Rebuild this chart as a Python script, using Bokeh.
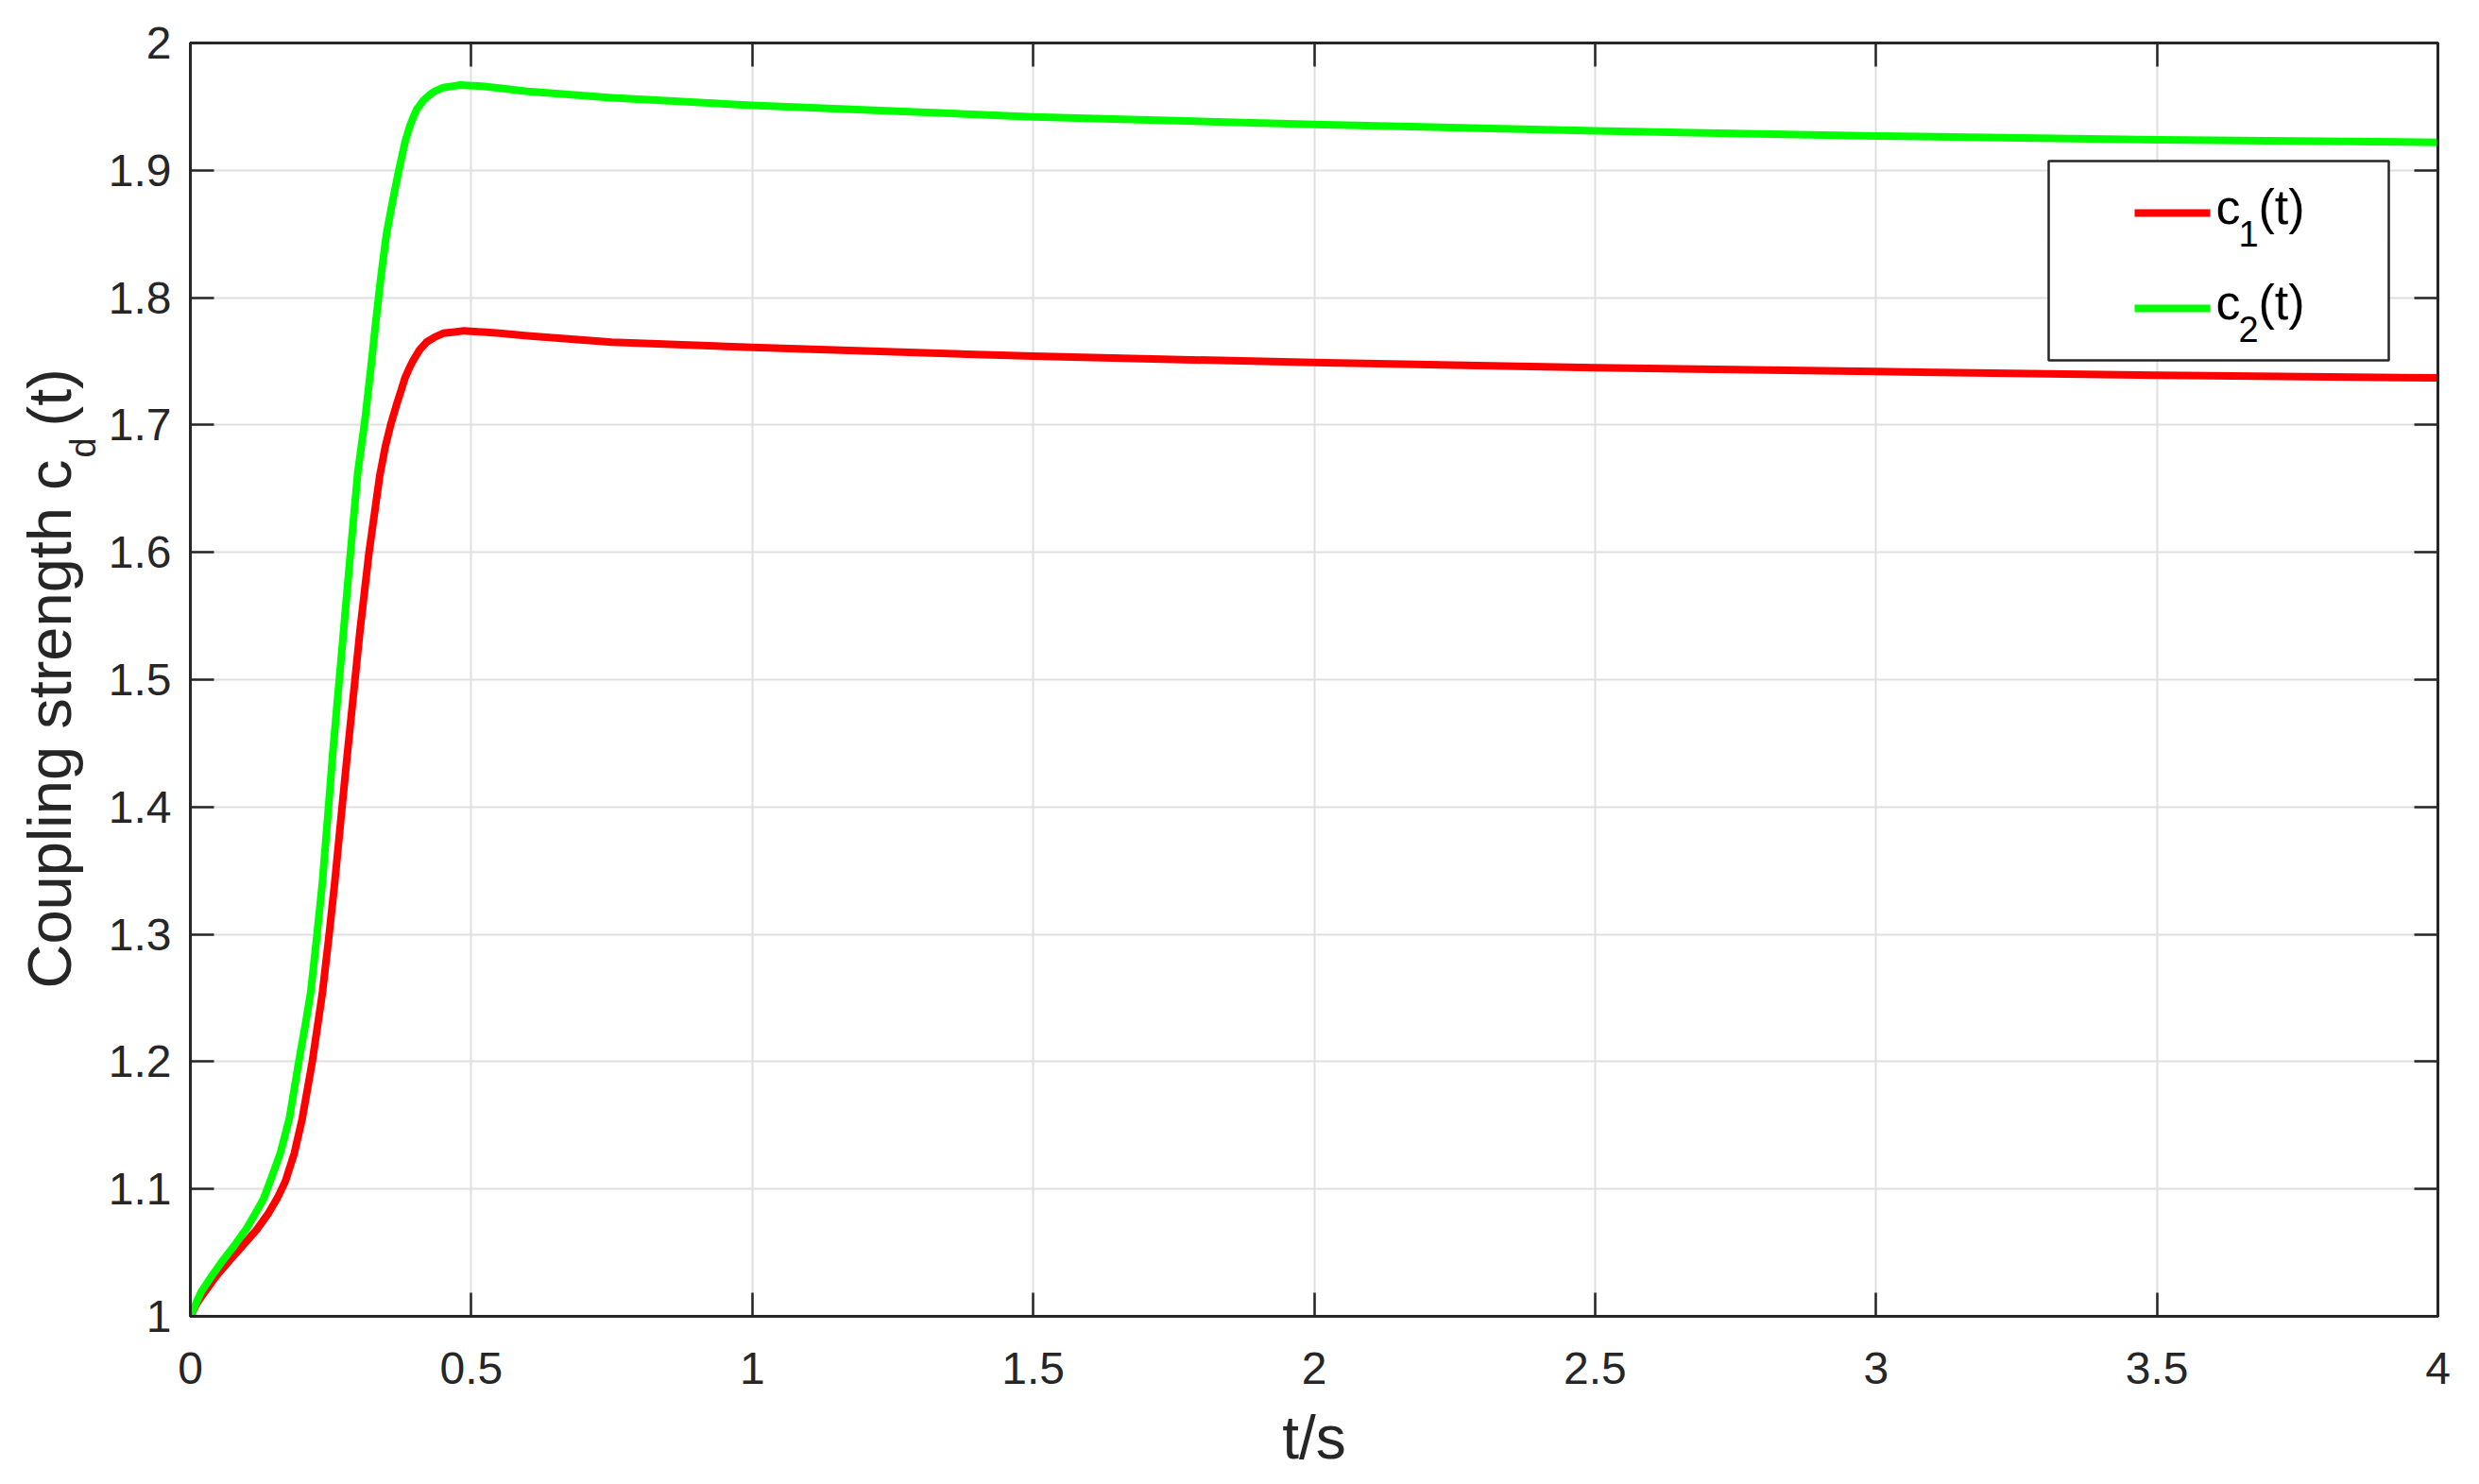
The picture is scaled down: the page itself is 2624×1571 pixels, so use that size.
import numpy as np
from bokeh.plotting import figure
from bokeh.layouts import row
from bokeh.models import (LinearAxis, Range1d, FixedTicker, Label, BoxAnnotation,
                          CustomJSTickFormatter)
from bokeh.embed import file_html
from bokeh.resources import INLINE

# ---- data ----
t1 = [0.000, 0.010, 0.022, 0.045, 0.070, 0.094, 0.118, 0.139, 0.155, 0.169, 0.185,
      0.199, 0.217, 0.235, 0.247, 0.257, 0.270, 0.279, 0.293, 0.302, 0.318, 0.337,
      0.347, 0.357, 0.367, 0.375, 0.382, 0.390, 0.397, 0.408, 0.420, 0.435, 0.450,
      0.470, 0.487, 0.550, 0.600, 0.750, 1.000, 1.500, 2.000, 2.500, 3.000, 3.500,
      4.000]
c1 = [1.000, 1.009, 1.017, 1.031, 1.044, 1.056, 1.068, 1.081, 1.093, 1.106, 1.128,
      1.155, 1.200, 1.254, 1.300, 1.341, 1.400, 1.440, 1.500, 1.539, 1.600, 1.660,
      1.683, 1.701, 1.716, 1.727, 1.737, 1.745, 1.751, 1.759, 1.765, 1.769, 1.772,
      1.773, 1.774, 1.772, 1.770, 1.765, 1.761, 1.754, 1.749, 1.745, 1.742, 1.739,
      1.737]

t2 = [0.000, 0.008, 0.019, 0.037, 0.058, 0.079, 0.100, 0.116, 0.130, 0.142, 0.160,
      0.176, 0.193, 0.205, 0.214, 0.225, 0.235, 0.245, 0.253, 0.265, 0.274, 0.285,
      0.298, 0.311, 0.321, 0.330, 0.339, 0.349, 0.360, 0.371, 0.382, 0.390, 0.397,
      0.403, 0.410, 0.415, 0.420, 0.428, 0.435, 0.450, 0.465, 0.480, 0.520, 0.600,
      0.750, 1.000, 1.500, 2.000, 2.500, 3.000, 3.500, 4.000]
c2 = [1.000, 1.008, 1.019, 1.031, 1.044, 1.056, 1.069, 1.081, 1.092, 1.106, 1.128,
      1.155, 1.200, 1.230, 1.254, 1.298, 1.341, 1.395, 1.440, 1.500, 1.545, 1.600,
      1.663, 1.705, 1.744, 1.781, 1.816, 1.850, 1.876, 1.900, 1.922, 1.934, 1.942,
      1.948, 1.952, 1.955, 1.957, 1.960, 1.962, 1.965, 1.966, 1.967, 1.966, 1.962,
      1.957, 1.951, 1.942, 1.936, 1.931, 1.927, 1.924, 1.922]

x_ticks = [0.0, 0.5, 1.0, 1.5, 2.0, 2.5, 3.0, 3.5, 4.0]
x_tick_labels = ["0", "0.5", "1", "1.5", "2", "2.5", "3", "3.5", "4"]
y_ticks = [1.0, 1.1, 1.2, 1.3, 1.4, 1.5, 1.6, 1.7, 1.8, 1.9, 2.0]
y_tick_labels = ["1", "1.1", "1.2", "1.3", "1.4", "1.5", "1.6", "1.7", "1.8", "1.9", "2"]

series_names = ["1", "2"]
series_colors = ["#ff0000", "#00ff00"]

FONT = "Liberation Sans"
AX = "#262626"
GRID = "#dfdfdf"
MID = 0.33        # distance (in em) from the text middle down to its baseline

H = 1568          # canvas height
WL = 110          # width of the strip holding the y title
WP = 2506         # width of the plot canvas
FT, FB = 45, 1393 # frame top / bottom in canvas pixels

# ---------------- main plot ----------------
p = figure(width=WP, height=H, x_range=Range1d(0, 4), y_range=Range1d(1, 2),
           output_backend="svg", toolbar_location=None,
           min_border_left=201 - WL, min_border_right=36, min_border_top=FT,
           min_border_bottom=H - FB)
p.background_fill_color = "white"
p.border_fill_color = "white"
p.outline_line_color = AX
p.outline_line_width = 3

p.line(t1, c1, line_color=series_colors[0], line_width=8, line_join="round")
p.line(t2, c2, line_color=series_colors[1], line_width=8, line_join="round")

def style_axis(ax, ticks, labels=None):
    ax.ticker = FixedTicker(ticks=ticks)
    ax.axis_line_color = AX
    ax.axis_line_width = 3
    ax.major_tick_line_color = AX
    ax.major_tick_line_width = 2.5
    ax.major_tick_in = 25
    ax.major_tick_out = 0
    ax.minor_tick_line_color = None
    ax.major_label_text_font = FONT
    ax.major_label_text_color = AX
    if labels is not None:
        ax.major_label_overrides = dict(zip(ticks, labels))
        ax.major_label_text_font_size = "48px"
    else:
        ax.formatter = CustomJSTickFormatter(code="return ''")
        ax.major_label_text_font_size = "1px"
        ax.major_label_standoff = 0

xa = p.xaxis[0]
style_axis(xa, x_ticks, x_tick_labels)
xa.major_label_standoff = 38
xa.axis_label = "t/s"
xa.axis_label_text_font = FONT
xa.axis_label_text_font_size = "64px"
xa.axis_label_text_font_style = "normal"
xa.axis_label_text_color = AX
xa.axis_label_standoff = 18

ya = p.yaxis[0]
style_axis(ya, y_ticks, y_tick_labels)
ya.major_label_standoff = 20

top = LinearAxis()
style_axis(top, x_ticks)
p.add_layout(top, "above")
right = LinearAxis()
style_axis(right, y_ticks)
p.add_layout(right, "right")

p.xgrid.ticker = FixedTicker(ticks=x_ticks)
p.ygrid.ticker = FixedTicker(ticks=y_ticks)
for g in (p.xgrid, p.ygrid):
    g.grid_line_color = GRID
    g.grid_line_width = 2

# ---- legend (screen units relative to the frame) ----
p.add_layout(BoxAnnotation(left=1967, right=2327, bottom=1012, top=1223,
                           left_units="screen", right_units="screen",
                           bottom_units="screen", top_units="screen",
                           fill_color="white", fill_alpha=1.0,
                           line_color=AX, line_alpha=1.0, line_width=2.5))
for i, (nm, col) in enumerate(zip(series_names, series_colors)):
    yc = 1168 - 101 * i
    p.add_layout(BoxAnnotation(left=2058, right=2138, bottom=yc - 4, top=yc + 4,
                               left_units="screen", right_units="screen",
                               bottom_units="screen", top_units="screen",
                               fill_color=col, fill_alpha=1.0, line_color=None))
    base = 1157 - 101 * i
    for txt, dx, dy, size in (("c", 2144, 0, 52), (nm, 2168, -24, 38),
                              ("(t)", 2189, 0, 52)):
        p.add_layout(Label(x=dx, y=base + dy + MID * size, x_units="screen",
                           y_units="screen", text=txt, text_align="left",
                           text_baseline="middle", text_font=FONT,
                           text_font_size=f"{size}px", text_color="black"))

# ---------------- strip with the y-axis title ----------------
lf = figure(width=WL, height=H, x_range=Range1d(0, WL), y_range=Range1d(FB, FT),
            output_backend="svg", toolbar_location=None,
            min_border_left=0, min_border_right=0, min_border_top=FT,
            min_border_bottom=H - FB, x_axis_type=None, y_axis_type=None)
lf.outline_line_color = None
lf.background_fill_color = "white"
lf.border_fill_color = "white"
lf.grid.visible = False

# (text, baseline x, start y, size) in canvas pixels
for txt, bx, sy, size in (("Coupling strength c", 73, 1046, 65),
                          ("d", 100, 484, 38),
                          ("(t)", 73, 451, 65)):
    lf.add_layout(Label(x=bx - MID * size, y=sy, text=txt, angle=np.pi / 2,
                        text_align="left", text_baseline="middle", text_font=FONT,
                        text_font_size=f"{size}px", text_color=AX))

layout = row(lf, p, spacing=0)
open("out.html", "w").write(file_html(layout, INLINE))
